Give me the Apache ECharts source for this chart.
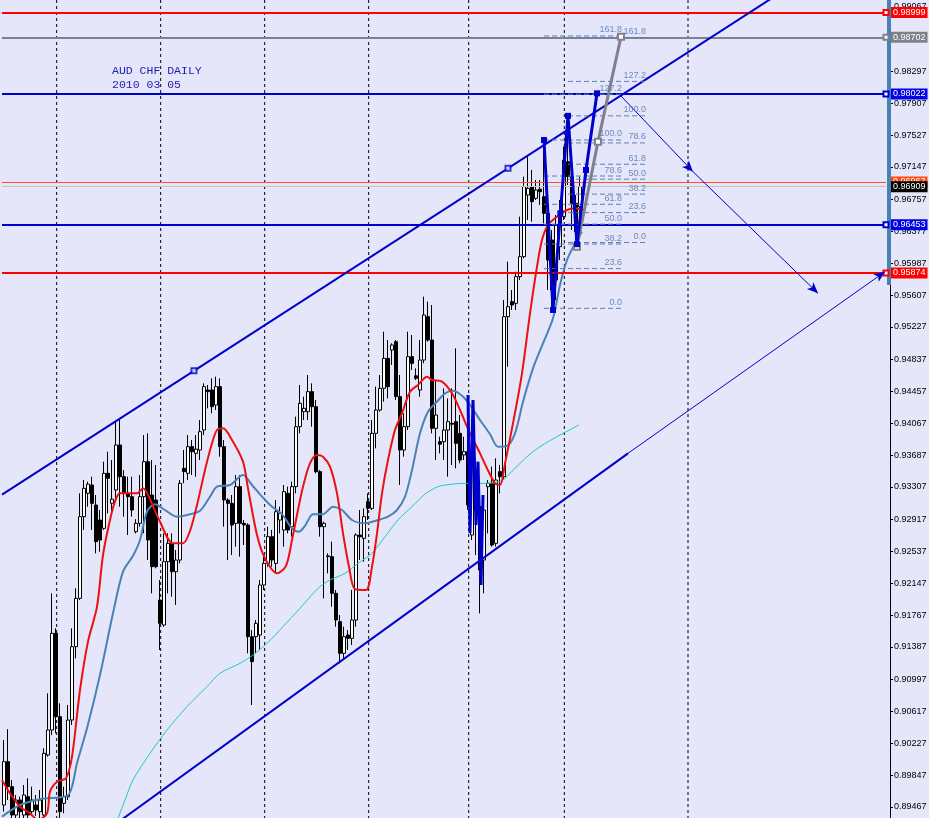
<!DOCTYPE html>
<html><head><meta charset="utf-8">
<script src="https://cdn.jsdelivr.net/npm/echarts@6/dist/echarts.min.js"></script>
<style>html,body{margin:0;padding:0;background:#E6E6FA}#c{width:929px;height:818px}</style>
</head><body><div id="c"></div>
<script>
// ---------- data ----------
const slotCount = 222;
const yMax = 0.99150, yMin = 0.89334;

const opens = [0.8949,0.9001,0.8971,0.8937,0.8955,0.8937,0.8959,0.8941,0.8949,0.8941,
0.8937,0.9009,0.9039,0.9155,0.9055,0.8951,0.8959,0.9051,0.9139,0.9197,
0.9295,0.9323,0.9333,0.9309,0.9291,0.9281,0.9347,0.9311,0.9327,0.9381,
0.9343,0.9323,0.9319,0.9277,0.9287,0.9319,0.9361,0.9321,0.9315,0.9195,
0.9165,0.9241,0.9263,0.9229,0.9243,0.9353,0.9347,0.9379,0.9371,0.9375,
0.9399,0.9447,0.9447,0.9429,0.9451,0.9379,0.9315,0.9311,0.9287,0.9331,
0.9287,0.9285,0.9151,0.9151,0.9153,0.9213,0.9239,0.9271,0.9239,0.9291,
0.9279,0.9323,0.9283,0.9331,0.9403,0.9421,0.9421,0.9445,0.9427,0.9349,
0.9283,0.9247,0.9247,0.9203,0.9169,0.9131,0.9153,0.9149,0.9171,0.9273,
0.9269,0.9313,0.9305,0.9395,0.9423,0.9449,0.9485,0.9495,0.9505,0.9439,
0.9375,0.9403,0.9487,0.9464,0.9447,0.9483,0.9535,0.9507,0.9401,0.9385,
0.9385,0.9399,0.9407,0.9409,0.9395,0.9369,0.9373,0.9273,0.9335,0.9307,
0.9243,0.9331,0.9335,0.9263,0.9349,0.9343,0.9535,0.9553,0.9551,0.9583,
0.9607,0.9681,0.9691,0.9677,0.9688,0.9679,0.9659,0.9627,0.9579,0.9619,
0.9655,0.9721,0.9703,0.9671,0.9667];
const closes = [0.9001,0.8971,0.8937,0.8955,0.8941,0.8961,0.8937,0.8955,0.8943,0.8955,
0.9011,0.9039,0.9155,0.9055,0.8941,0.8959,0.9051,0.9139,0.9197,0.9295,
0.9329,0.9334,0.9311,0.9265,0.9267,0.9347,0.9341,0.9316,0.9381,0.9343,
0.9323,0.9319,0.9303,0.9287,0.9319,0.9361,0.9267,0.9235,0.9235,0.9167,
0.9241,0.9263,0.9229,0.9243,0.9335,0.9349,0.9379,0.9373,0.9376,0.9397,
0.9451,0.9445,0.9427,0.9451,0.9379,0.9315,0.9311,0.9285,0.9331,0.9287,
0.9285,0.9151,0.9121,0.9167,0.9213,0.9239,0.9271,0.9243,0.9301,0.9299,
0.9325,0.9279,0.9331,0.9403,0.9431,0.9425,0.9445,0.9427,0.9349,0.9283,
0.9287,0.9248,0.9203,0.9171,0.9131,0.9151,0.9149,0.9171,0.9273,0.9271,
0.9295,0.9305,0.9395,0.9423,0.9449,0.9485,0.9451,0.9501,0.9439,0.9375,
0.9403,0.9487,0.9479,0.9461,0.9483,0.9537,0.9507,0.9401,0.9417,0.9382,
0.9399,0.9409,0.9406,0.9383,0.9363,0.9373,0.9309,0.9357,0.9303,0.9231,
0.9303,0.9335,0.9261,0.9339,0.9343,0.9535,0.9547,0.9549,0.9583,0.9607,
0.9691,0.9689,0.9673,0.9687,0.9685,0.9659,0.9603,0.9567,0.9645,0.9655,
0.9723,0.9703,0.9671,0.9637,0.9691];
const highs = [0.9027,0.9040,0.8979,0.8961,0.8959,0.8973,0.8981,0.8971,0.8961,0.8967,
0.9017,0.9083,0.9203,0.9161,0.9071,0.8971,0.9069,0.9161,0.9209,0.9323,
0.9339,0.9337,0.9343,0.9321,0.9303,0.9361,0.9373,0.9363,0.9409,0.9411,
0.9351,0.9343,0.9343,0.9292,0.9345,0.9393,0.9395,0.9363,0.9357,0.9219,
0.9275,0.9275,0.9275,0.9255,0.9339,0.9375,0.9393,0.9387,0.9393,0.9411,
0.9455,0.9453,0.9461,0.9463,0.9461,0.9387,0.9317,0.9321,0.9345,0.9345,
0.9291,0.9287,0.9159,0.9171,0.9219,0.9247,0.9283,0.9279,0.9315,0.9307,
0.9333,0.9331,0.9337,0.9415,0.9453,0.9439,0.9465,0.9455,0.9435,0.9351,
0.9289,0.9251,0.9265,0.9207,0.9177,0.9163,0.9159,0.9207,0.9275,0.9303,
0.9305,0.9323,0.9411,0.9451,0.9465,0.9517,0.9507,0.9503,0.9507,0.9465,
0.9419,0.9517,0.9513,0.9473,0.9507,0.9559,0.9553,0.9549,0.9459,0.9391,
0.9449,0.9437,0.9449,0.9497,0.9417,0.9391,0.9439,0.9411,0.9351,0.9315,
0.9321,0.9339,0.9355,0.9365,0.9357,0.9555,0.9601,0.9567,0.9589,0.9655,
0.9703,0.9727,0.9711,0.9699,0.9699,0.9747,0.9669,0.9639,0.9657,0.9675,
0.9739,0.9775,0.9723,0.9681,0.9703];
const lows = [0.8941,0.8955,0.8929,0.8933,0.8933,0.8933,0.8933,0.8936,0.8936,0.8933,
0.8933,0.9007,0.9033,0.9035,0.8933,0.8939,0.8955,0.9045,0.9125,0.9195,
0.9279,0.9307,0.9279,0.9251,0.9253,0.9279,0.9299,0.9301,0.9315,0.9307,
0.9295,0.9273,0.9295,0.9275,0.9283,0.9275,0.9243,0.9203,0.9233,0.9135,
0.9163,0.9203,0.9199,0.9189,0.9239,0.9335,0.9339,0.9345,0.9343,0.9363,
0.9393,0.9425,0.9419,0.9423,0.9367,0.9283,0.9243,0.9249,0.9259,0.9247,
0.9261,0.9131,0.9069,0.9131,0.9135,0.9207,0.9235,0.9235,0.9227,0.9275,
0.9259,0.9275,0.9271,0.9323,0.9395,0.9411,0.9411,0.9403,0.9347,0.9271,
0.9197,0.9227,0.9187,0.9163,0.9119,0.9123,0.9135,0.9141,0.9163,0.9243,
0.9241,0.9291,0.9303,0.9377,0.9421,0.9433,0.9437,0.9477,0.9435,0.9333,
0.9367,0.9399,0.9471,0.9459,0.9439,0.9479,0.9505,0.9395,0.9363,0.9371,
0.9363,0.9343,0.9357,0.9353,0.9359,0.9363,0.9303,0.9267,0.9249,0.9179,
0.9203,0.9275,0.9259,0.9259,0.9323,0.9339,0.9475,0.9543,0.9543,0.9579,
0.9605,0.9651,0.9649,0.9675,0.9669,0.9647,0.9567,0.9543,0.9555,0.9603,
0.9651,0.9693,0.9639,0.9625,0.9645];

const tickValues = [0.99067,0.98687,0.98297,0.97907,0.97527,0.97147,0.96757,0.96377,0.95987,0.95607,
0.95227,0.94837,0.94457,0.94067,0.93687,0.93307,0.92917,0.92537,0.92147,0.91767,0.91387,0.90997,
0.90617,0.90227,0.89847,0.89467];

// moving averages: [bar, price]
const redMA = [[-0.5,0.8979],[1.5,0.8963],[4,0.8947],[6.5,0.8939],[8.5,0.8931],[10.75,0.8939],[11.5,0.8965],
[13.25,0.8977],[15.5,0.8981],[17,0.9007],[19,0.9087],[21,0.9145],[23.25,0.9187],[24.75,0.9249],[26.5,0.9291],
[27.75,0.9313],[29,0.9323],[33.25,0.9323],[34.75,0.9329],[36,0.9321],[39,0.9289],[42.25,0.9263],[44.75,0.9263],
[46.5,0.9278],[48.25,0.9309],[50.25,0.9351],[52,0.9383],[53.25,0.9399],[54.75,0.9401],[57,0.9387],[59.75,0.9361],
[61,0.9329],[63.25,0.9273],[65.25,0.9245],[68.25,0.9227],[70.5,0.9236],[72,0.9267],[73.5,0.9303],[74.75,0.9331],
[76.5,0.9359],[78.25,0.9369],[79.75,0.9367],[81.5,0.9355],[83.25,0.9323],[84.75,0.9275],[86.25,0.9235],
[87.75,0.9208],[90.5,0.9207],[92,0.9235],[93.25,0.9275],[94.5,0.9323],[96,0.9363],[97.75,0.9399],[99.5,0.9419],
[101.5,0.9445],[103.5,0.9453],[105.75,0.9463],[107,0.9459],[109.5,0.9457],[112,0.9443],[114,0.9423],
[116.5,0.9395],[119,0.9371],[120.75,0.9353],[122.75,0.9335],[124,0.9333],[125.25,0.9359],[127.25,0.9407],
[129.5,0.9467],[131.5,0.9539],[133.25,0.9595],[134.5,0.9627],[136,0.9645],[138.25,0.9655],[140.75,0.9663],
[142.75,0.9665],[144.75,0.9663]];
const steelMA = [[-0.5,0.8935],[4,0.8949],[9,0.8956],[15.75,0.8960],[17,0.8971],[18.25,0.8999],[20.75,0.9041],
[24,0.9105],[27.25,0.9179],[29.75,0.9229],[32.25,0.9248],[34,0.9267],[35.75,0.9301],[37.75,0.9310],[40.25,0.9303],
[43.25,0.9295],[45.75,0.9297],[49,0.9302],[51.5,0.9319],[53.25,0.9331],[56.5,0.9333],[59.75,0.9345],[62,0.9333],
[64.5,0.9319],[67,0.9307],[69.5,0.9298],[72,0.9281],[73.75,0.9277],[75.25,0.9284],[77.25,0.9298],[79.75,0.9298],
[82.25,0.9307],[84.5,0.9303],[87,0.9291],[90.25,0.9287],[93.5,0.9291],[96,0.9295],[98.25,0.9303],[100.25,0.9319],
[102,0.9351],[104,0.9395],[106,0.9421],[108.25,0.9433],[110.25,0.9443],[112.25,0.9446],[114.5,0.9440],
[116.5,0.9429],[119,0.9411],[121.5,0.9394],[123.5,0.9379],[125.75,0.9380],[127.75,0.9395],[129.75,0.9433],
[132.25,0.9473],[134.75,0.9503],[137.25,0.9533],[139,0.9573],[140.75,0.9603],[142.75,0.9623],[144.5,0.9637]];
const cyanMA = [[28.5,0.8933],[30.25,0.8955],[32.25,0.8979],[36.5,0.9011],[40.75,0.9039],[45.75,0.9067],
[50.75,0.9091],[54,0.9107],[59,0.9119],[62.25,0.9129],[65.75,0.9143],[69.75,0.9163],[74,0.9185],[78.5,0.9209],
[81.5,0.9219],[85.25,0.9227],[88.5,0.9239],[92,0.9251],[95.25,0.9271],[98.5,0.9291],[102,0.9307],[105.25,0.9322],
[108.5,0.9331],[112,0.9334],[115.25,0.9335],[119,0.9335],[124,0.9337],[126.5,0.9347],[130.75,0.9367],
[134,0.9379],[139,0.9393],[143.75,0.9405]];

// drawn objects: [bar, price]
const upperChannel = [[47.5,0.9470],[126,0.9713]];
const lowerChannel = [[29,0.8930],[156,0.9371]];
const channelTail = [[156,0.9371],[220.25,0.9589]];
const arrowA = [[154,0.9801],[172.25,0.9709]];
const arrowB = [[172.25,0.9709],[203.5,0.9563]];
const zigzag = [[135,0.9747],[137.25,0.9543],[139.1,0.9659],[141,0.9776],[143.25,0.9622],[145.5,0.9711],[148.25,0.9803]];
const zigzagEarly = [[116,0.9441],[116.5,0.9275],[117.25,0.9435],[118,0.9285],[118.5,0.9361],[119.25,0.9213],[119.75,0.9321]];
const grayLeg = [[143.25,0.9619],[148.5,0.9745],[154.25,0.9871]];
const fibLevels = [0,23.6,38.2,50,61.8,78.6,100,127.2,161.8];
const fibA = {from:135, to:154.5, low:0.9545, high:0.9747};
const fibB = {from:141, to:160.5, low:0.9624, high:0.9776};
const hLevels = [0.98999,0.98702,0.98022,0.96967,0.96453,0.95874];
const bidPrice = 0.96909;
const gridBars = [13.17,39.17,65.17,91.17,116.17,140.08,171];
const titleLines = ['AUD CHF DAILY','2010 03 05'];

// ---------- styles ----------
const hStyle = [
  {c:'#FF0000', bg:'#FF0000', w:2, h:true},
  {c:'#808088', bg:'#80808A', w:2, h:true},
  {c:'#0000CD', bg:'#0000E6', w:2, h:true},
  {c:'#FF5020', bg:'#FF4A10', w:1, h:false},
  {c:'#0000CD', bg:'#0000E6', w:2, h:true},
  {c:'#FF0000', bg:'#FF0000', w:2, h:true}
];
const BLUE = '#0000CD', FIBC = '#5A7FB6', LABF = 'Liberation Sans';

const cats = Array.from({length: slotCount}, (_, i) => String(i));
const candleData = closes.map((c, i) => [opens[i], c, lows[i], highs[i]]);

function extend(pts, x0, x1) {
  const [[a, b], [c, d]] = pts; const s = (d - b) / (c - a);
  return [[x0, b + s * (x0 - a)], [x1, b + s * (x1 - a)]];
}

const series = [];
gridBars.forEach(v => series.push({
  type:'line', xAxisIndex:1, data:[[v, yMax],[v, yMin]], symbol:'none', silent:true, z:1,
  lineStyle:{color:'#000', width:1, type:[3,3]}
}));
series.push({
  type:'candlestick', xAxisIndex:0, data:candleData, barWidth:3, z:2,
  itemStyle:{color:'#FFFFFF', color0:'#000000', borderColor:'#000000', borderColor0:'#000000', borderWidth:1}
});
series.push({type:'line', xAxisIndex:1, data:cyanMA, symbol:'none', smooth:0.3, z:3, lineStyle:{color:'#1FC8C8', width:1}});
series.push({type:'line', xAxisIndex:1, data:steelMA, symbol:'none', smooth:0.3, z:3, lineStyle:{color:'#4A82B4', width:2}});
series.push({type:'line', xAxisIndex:1, data:redMA, symbol:'none', smooth:0.3, z:3, lineStyle:{color:'#EE1010', width:2}});

// horizontal levels hosted on the axis bar series
const hData = hLevels.map((p, k) => {
  const st = hStyle[k];
  return [
    {coord:[-0.5, p], symbol:'none', lineStyle:{color:st.c, width:st.w, type:'solid'},
     label:{show:true, position:'end', distance:5, formatter:p.toFixed(5), color:'#fff', backgroundColor:st.bg,
            padding:[1,2,0,2], fontSize:9, fontFamily:LABF, lineHeight:10}},
    {coord:[220.5, p], symbol: st.h ? 'emptyRect' : 'none', symbolSize:5, itemStyle:{color:st.c, borderColor:st.c}}
  ];
});
hData.push([
  {coord:[-0.5, bidPrice], symbol:'none', lineStyle:{color:'#C4C4CC', width:1, type:'solid'},
   label:{show:true, position:'end', distance:5, formatter:bidPrice.toFixed(5), color:'#fff', backgroundColor:'#000',
          padding:[1,2,0,2], fontSize:9, fontFamily:LABF, lineHeight:10}},
  {coord:[220.5, bidPrice], symbol:'none'}
]);
series.push({
  type:'line', xAxisIndex:1, data:[[221.25, yMax],[221.25, 0.9573]], symbol:'none', clip:false, z:4,
  lineStyle:{color:'#4682B4', width:4},
  markLine:{silent:true, symbol:['none','none'], animation:false, data:hData}
});

// channel
series.push({type:'line', xAxisIndex:1, data:extend(upperChannel, -0.5, 205), symbol:'none', z:5, lineStyle:{color:BLUE, width:2}});
series.push({type:'scatter', xAxisIndex:1, data:upperChannel, symbol:'emptyRect', symbolSize:5, z:6,
  itemStyle:{color:BLUE, borderColor:BLUE, borderWidth:1}});
series.push({
  type:'line', xAxisIndex:1, data:lowerChannel, symbol:'none', z:5, lineStyle:{color:BLUE, width:2},
  markLine:{silent:true, symbol:['none','arrow'], symbolSize:[7,11], animation:false,
    lineStyle:{color:BLUE, width:1, type:'solid'}, label:{show:false},
    data:[channelTail, arrowA, arrowB].map(seg => [{coord:seg[0].slice()},{coord:seg[1].slice()}])}
});

// fibonacci levels
[fibA, fibB].forEach(F => {
  fibLevels.forEach(L => {
    const p = F.low + (F.high - F.low) * L / 100;
    series.push({type:'line', xAxisIndex:1, data:[[F.from, p],[F.to, p]], symbol:'none', z:5, silent:true,
      lineStyle:{color:FIBC, width:1, type:[5,3]}});
  });
  series.push({
    type:'scatter', xAxisIndex:1, symbolSize:1, z:6, silent:true, itemStyle:{color:'rgba(0,0,0,0)'},
    data: fibLevels.map(L => ({value:[F.to, F.low + (F.high - F.low) * L / 100], name:L.toFixed(1)})),
    label:{show:true, position:'top', align:'right', distance:1, formatter:'{b}', color:'#4A72AC', fontSize:9, fontFamily:LABF}
  });
});

// zigzags and legs
series.push({type:'line', xAxisIndex:1, data:zigzagEarly, symbol:'none', z:5, lineStyle:{color:BLUE, width:3}});
series.push({type:'line', xAxisIndex:1, data:grayLeg, symbol:'emptyRect', symbolSize:6, showSymbol:true, z:6,
  lineStyle:{color:'#80808E', width:3}, itemStyle:{color:'#80808E', borderWidth:2}});
series.push({type:'line', xAxisIndex:1, data:zigzag, symbol:'rect', symbolSize:6, showSymbol:true, z:7,
  lineStyle:{color:BLUE, width:3}, itemStyle:{color:BLUE}});

const chart = echarts.init(document.getElementById('c'), null, {renderer:'canvas'});
chart.setOption({
  animation:false,
  backgroundColor:'#E6E6FA',
  title:{text:titleLines.join('\n'), left:107, top:59,
    textStyle:{fontFamily:'Liberation Mono', fontSize:11.5, fontWeight:'normal', color:'#1C1CB4', lineHeight:14}},
  grid:{left:2, right:39, top:0, bottom:0, containLabel:false, outerBoundsMode:'none'},
  xAxis:[
    {type:'category', data:cats, show:false, boundaryGap:true},
    {type:'value', min:-0.5, max:slotCount - 0.5, show:false}
  ],
  yAxis:{type:'value', position:'right', min:yMin, max:yMax, scale:true,
    splitLine:{show:false},
    axisLine:{show:true, onZero:false, lineStyle:{color:'#000', width:1}},
    axisTick:{show:true, length:3, customValues:tickValues, lineStyle:{color:'#000'}},
    axisLabel:{customValues:tickValues, formatter:v => v.toFixed(5), fontSize:9, fontFamily:LABF, color:'#000', margin:4}
  },
  series
});
</script></body></html>
